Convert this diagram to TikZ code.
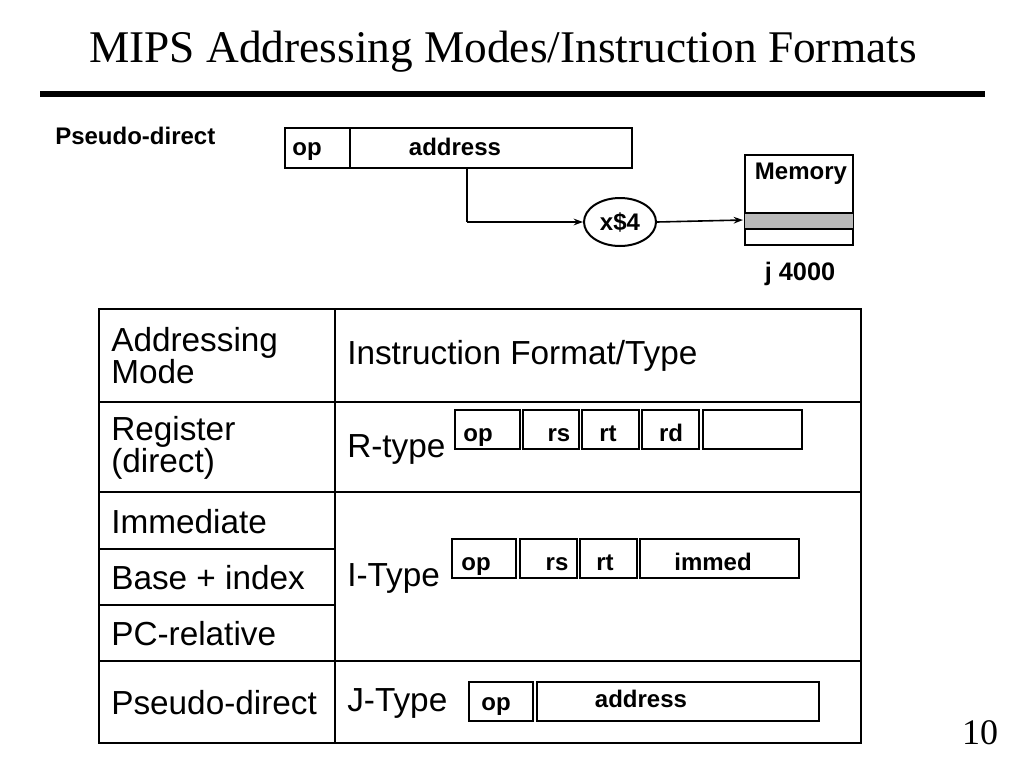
\documentclass[tikz,border=0pt]{standalone}
\usepackage{fontspec}
\setmainfont{Liberation Serif}
\setsansfont{Liberation Sans}
\usetikzlibrary{arrows.meta,shapes.geometric}
\begin{document}
\begin{tikzpicture}[x=0.75pt,y=-0.75pt,
  fld/.style={draw,line width=1.8pt},
  lab/.style={font=\sffamily\bfseries\fontsize{18}{20}\selectfont,inner sep=0pt,anchor=base},
  cell/.style={font=\sffamily\fontsize{25}{28}\selectfont,align=left,anchor=west,inner sep=0pt},
  arr/.style={line width=1.2pt,-{Stealth[length=7pt,width=5pt]}}]
\useasboundingbox (0,0) rectangle (1024,768);
\node[font=\fontsize{34}{38}\selectfont] (title) at (503,52) {MIPS Addressing Modes/Instruction Formats};
\fill (40,91) rectangle (985,97);
\node[lab,anchor=base west] (pd) at (55,144) {Pseudo-direct};
% top instruction
\draw[fld] (285,128) rectangle (632,168);
\draw[fld] (350,128) -- (350,168);
\node[lab] (op0) at (307,155) {op};
\node[lab] (ad0) at (455,155) {address};
\coordinate (c0) at (467,168);
\coordinate (c1) at (467,222);
\node[draw,line width=1.5pt,ellipse,minimum width=54pt,minimum height=36pt,inner sep=0pt,font=\sffamily\bfseries\fontsize{18}{20}\selectfont] (mul) at (620,222) {x\$4};
\draw[line width=1.2pt] (c0) -- (c1);
\draw[arr] (c1) -- (mul.west);
% memory
\draw[fld] (745,155) rectangle (853,245);
\fill[gray!55] (745,213) rectangle (853,229);
\draw[fld] (745,213) -- (853,213) (745,229) -- (853,229);
\node[lab] (mem) at (801,179) {Memory};
\coordinate (memrow) at (743,220);
\draw[arr] (mul.east) -- (memrow);
\node[lab,font=\sffamily\bfseries\fontsize{19}{21}\selectfont] (j) at (800,280) {j 4000};
% table
\draw[line width=1.8pt] (99,309) rectangle (861,743);
\draw[line width=1pt] (335,309) -- (335,743);
\draw[line width=1.8pt] (99,402) -- (861,402);
\draw[line width=1pt] (99,492) -- (861,492) (99,661) -- (861,661);
\draw[line width=1pt] (99,549) -- (335,549) (99,605) -- (335,605);
\node[cell] (h1) at (111,356) {Addressing\\[-4pt]Mode};
\node[cell] (h2) at (347,356) {Instruction Format/Type};
\node[cell] (r1) at (111,448) {Register\\[-4pt](direct)};
\node[cell] (r2) at (347,449) {R-type};
\node[cell] (i1) at (111,522) {Immediate};
\node[cell] (i2) at (111,578) {Base + index};
\node[cell] (i3) at (111,634) {PC-relative};
\node[cell] (i4) at (347,578) {I-Type};
\node[cell] (j1) at (111,703) {Pseudo-direct};
\node[cell] (j2) at (347,703) {J-Type};
% R fields
\draw[fld] (455,410) rectangle (520,449);
\draw[fld] (523,410) rectangle (579,449);
\draw[fld] (582,410) rectangle (639,449);
\draw[fld] (642,410) rectangle (699,449);
\draw[fld] (703,410) rectangle (802,449);
\node[lab] (rop) at (478,441) {op};
\node[lab] (rrs) at (559,441) {rs};
\node[lab] (rrt) at (608,441) {rt};
\node[lab] (rrd) at (671,441) {rd};
% I fields
\draw[fld] (452,539) rectangle (516,578);
\draw[fld] (520,539) rectangle (577,578);
\draw[fld] (580,539) rectangle (637,578);
\draw[fld] (640,539) rectangle (799,578);
\node[lab] (iop) at (476,570) {op};
\node[lab] (irs) at (557,570) {rs};
\node[lab] (irt) at (605,570) {rt};
\node[lab] (iim) at (713,570) {immed};
% J fields
\draw[fld] (469,682) rectangle (533,721);
\draw[fld] (537,682) rectangle (819,721);
\node[lab] (jop) at (496,710) {op};
\node[lab] (jad) at (641,707) {address};
\node[font=\fontsize{27}{30}\selectfont] (pg) at (980,733) {10};
\end{tikzpicture}
\end{document}
